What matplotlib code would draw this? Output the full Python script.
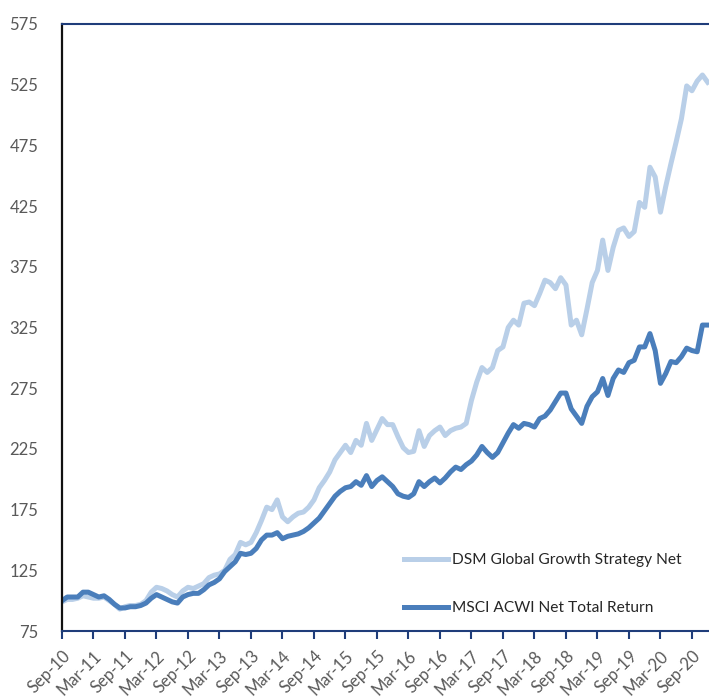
import matplotlib
matplotlib.use("Agg")
import matplotlib.pyplot as plt
import numpy as np

# Monthly index values, Sep-10 .. Dec-20
dsm = [99, 101, 101, 102, 104, 103, 102, 102, 103, 100, 97, 93, 95, 96, 96, 97, 100, 107, 111, 110,
       108, 105, 103, 108, 111, 110, 112, 114, 119, 121, 122, 125, 134, 138, 148, 146, 148, 156, 166, 177,
       175, 183, 169, 165, 169, 172, 173, 177, 183, 193, 199, 206, 216, 222, 228, 222, 232, 228, 246, 232,
       241, 250, 245, 245, 235, 226, 222, 223, 240, 227, 236, 240, 243, 236, 240, 242, 243, 246, 265, 280,
       292, 288, 292, 306, 309, 325, 331, 327, 345, 346, 343, 353, 364, 362, 357, 366, 360, 327, 331, 319,
       340, 362, 372, 397, 372, 391, 405, 407, 400, 404, 428, 424, 457, 449, 420, 441, 460, 478, 497, 524,
       520, 528, 533, 527]
msci = [100, 103, 103, 103, 107, 107, 105, 103, 104, 101, 97, 94, 94, 95, 95, 96, 98, 102, 105, 103,
        101, 99, 98, 103, 105, 106, 106, 109, 113, 115, 118, 124, 128, 132, 139, 138, 139, 143, 150, 154,
        154, 156, 151, 153, 154, 155, 157, 160, 164, 168, 174, 180, 186, 190, 193, 194, 198, 195, 203, 194,
        199, 202, 198, 194, 188, 186, 185, 188, 198, 194, 198, 201, 197, 201, 206, 210, 208, 212, 215, 220,
        227, 222, 218, 222, 230, 238, 245, 242, 246, 245, 243, 250, 252, 257, 264, 271, 271, 258, 252, 246,
        260, 268, 272, 283, 269, 283, 290, 288, 296, 298, 309, 309, 320, 306, 279, 287, 297, 296, 301, 308,
        306, 305, 327, 327]

tick_labels = ["Sep-10", "Mar-11", "Sep-11", "Mar-12", "Sep-12", "Mar-13", "Sep-13", "Mar-14",
               "Sep-14", "Mar-15", "Sep-15", "Mar-16", "Sep-16", "Mar-17", "Sep-17", "Mar-18",
               "Sep-18", "Mar-19", "Sep-19", "Mar-20", "Sep-20"]
y_ticks = [75, 125, 175, 225, 275, 325, 375, 425, 475, 525, 575]

series_names = ["DSM Global Growth Strategy Net", "MSCI ACWI Net Total Return"]

plt.rcParams['font.family'] = ['Lato', 'DejaVu Sans']

W, H = 709, 698
fig = plt.figure(figsize=(W / 100, H / 100), dpi=100)
left, right, top, bottom = 62, 709, 24, 631
ax = fig.add_axes([left / W, 1 - bottom / H, (right - left) / W, (bottom - top) / H])

x = np.arange(len(dsm))
ax.plot(x, dsm, color="#b9cfe8", lw=3.6, solid_joinstyle='round', label=series_names[0])
ax.plot(x, msci, color="#4a7ebb", lw=3.6, solid_joinstyle='round', label=series_names[1])

ax.set_xlim(0, 123.25)
ax.set_ylim(75, 575)

ax.set_yticks(y_ticks)
ax.set_yticklabels([str(v) for v in y_ticks], fontsize=12, color="#595959")
ax.tick_params(axis='y', length=0, pad=17)

xt = np.arange(0, 6 * len(tick_labels), 6)
ax.set_xticks(xt)
ax.set_xticklabels(tick_labels, rotation=45, ha='right', va='top', rotation_mode='anchor',
                   fontsize=12, color="#595959")
ax.tick_params(axis='x', direction='out', length=6, width=1.5, color="#1f3d7a", pad=6)

ax.spines['right'].set_visible(False)
ax.spines['top'].set_color("#1f3d7a")
ax.spines['top'].set_linewidth(1.5)
ax.spines['bottom'].set_color("#1f3d7a")
ax.spines['bottom'].set_linewidth(1.5)
ax.spines['left'].set_color("#111111")
ax.spines['left'].set_linewidth(1.6)

leg = ax.legend(loc='upper left', bbox_to_anchor=((398 - left) / (right - left), 1 - (547 - top) / (bottom - top)),
                frameon=False, fontsize=11.2, handlelength=2.8, handletextpad=0.25,
                labelspacing=2.2, borderaxespad=0)
for t in leg.get_texts():
    t.set_color("#262626")

fig.savefig("out.png", dpi=100)
